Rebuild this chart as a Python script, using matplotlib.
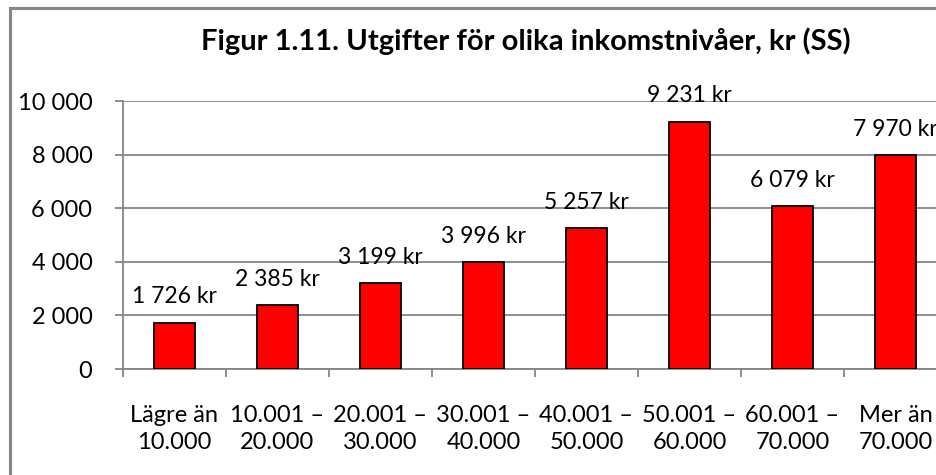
import matplotlib
matplotlib.use('Agg')
import matplotlib.pyplot as plt
from matplotlib.patches import Rectangle

plt.rcParams['font.family'] = ['Lato', 'DejaVu Sans']

# Data
categories = [
    'Lägre än\n10.000', '10.001 –\n20.000', '20.001 –\n30.000', '30.001 –\n40.000',
    '40.001 –\n50.000', '50.001 –\n60.000', '60.001 –\n70.000', 'Mer än\n70.000'
]
expenses = [1726, 2385, 3199, 3996, 5257, 9231, 6079, 7970]
y_ticks = [0, 2000, 4000, 6000, 8000, 10000]

W, H = 937, 475
fig = plt.figure(figsize=(W / 100, H / 100), dpi=100)
fig.patch.set_facecolor('white')

# gray frame of the chart area (cropped at right/bottom)
fig.patches.append(Rectangle(
    (10.5 / W, -0.1), 1.2, (475 - 7.5) / H + 0.1,
    transform=fig.transFigure, fill=False, edgecolor='#868686', linewidth=2.2
))

ax = fig.add_axes([123 / W, (H - 369) / H, 824 / W, 268 / H])
x = list(range(len(categories)))
ax.bar(x, expenses, width=0.4, color='#FF0000', edgecolor='black', linewidth=1.3, zorder=3)

for xi, v in zip(x, expenses):
    label = f"{v:,} kr".replace(',', ' ')
    ax.annotate(label, (xi, v), xytext=(0, 11), textcoords='offset points',
                ha='center', va='bottom', fontsize=16.5, color='black')

ax.set_xlim(-0.5, 7.5)
ax.set_ylim(0, 10000)
ax.set_yticks(y_ticks)
ax.set_yticklabels([f"{v:,}".replace(',', ' ') for v in y_ticks])
ax.set_xticks(x)
ax.set_xticklabels(categories, linespacing=1.35)
ax.set_xticks([i - 0.5 for i in range(len(categories) + 1)], minor=True)

ax.tick_params(axis='x', which='major', length=0, pad=26, labelsize=17)
ax.tick_params(axis='x', which='minor', length=6, width=1.3, color='#868686')
ax.tick_params(axis='y', length=6, width=1.3, color='#868686', pad=16, labelsize=17)

ax.grid(axis='y', color='#868686', linewidth=1.3, zorder=0)
ax.set_axisbelow(True)
for side in ['top', 'right']:
    ax.spines[side].set_visible(False)
for side in ['left', 'bottom']:
    ax.spines[side].set_color('#868686')
    ax.spines[side].set_linewidth(1.3)

fig.text(526 / W, 1 - 41 / H, 'Figur 1.11. Utgifter för olika inkomstnivåer, kr (SS)',
         ha='center', va='center', fontsize=21, fontweight='bold')

fig.savefig('out.png', dpi=100)
